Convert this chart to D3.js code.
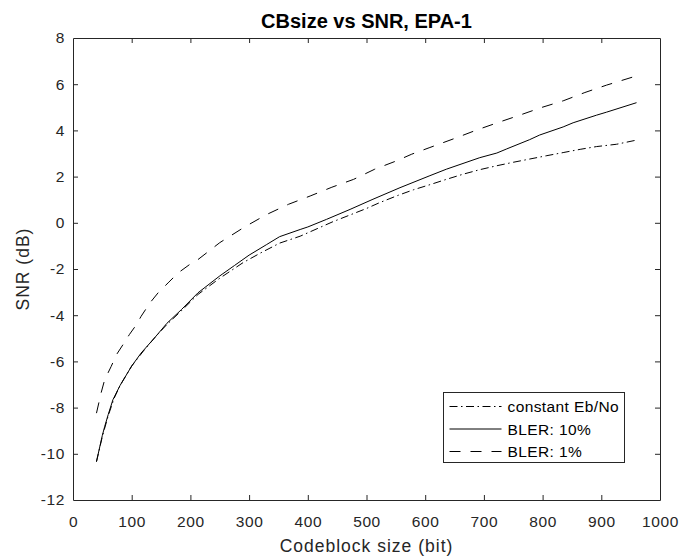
<!DOCTYPE html>
<html>
<head>
<meta charset="utf-8">
<script src="https://cdn.jsdelivr.net/npm/d3@7"></script>
<style>
  html, body { margin: 0; padding: 0; background: #fff; }
  svg { display: block; font-family: "Liberation Sans", Arial, Helvetica, sans-serif; }
</style>
</head>
<body>
<svg id="chart" width="681" height="560"></svg>
<script>
// Required SNR versus code block size, EPA-1 channel
const xTicks = [0, 100, 200, 300, 400, 500, 600, 700, 800, 900, 1000];
const yTicks = [-12, -10, -8, -6, -4, -2, 0, 2, 4, 6, 8];

// constant Eb/No reference
const ebnoX = [40, 50, 60, 70, 80, 100, 120, 140, 160, 185, 213, 250, 290, 320, 352, 387, 443, 500, 523, 554, 580, 608, 636, 664, 693, 722, 750, 778, 806, 835, 864, 892, 926, 960];
const ebnoY = [-10.34, -9.25, -8.35, -7.6, -7.05, -6.2, -5.55, -4.95, -4.4, -3.8, -3.1, -2.4, -1.72, -1.3, -0.88, -0.58, 0.05, 0.62, 0.88, 1.19, 1.43, 1.65, 1.88, 2.1, 2.3, 2.47, 2.62, 2.76, 2.9, 3.04, 3.18, 3.3, 3.4, 3.58];

// BLER 10%
const bler10X = [40, 50, 54, 60, 68, 80, 100, 116, 140, 160, 185, 213, 250, 275, 300, 330, 352, 387, 400, 432, 472, 511, 557, 608, 636, 693, 722, 739, 778, 795, 835, 852, 892, 909, 960];
const bler10Y = [-10.34, -9.2, -8.82, -8.3, -7.66, -7.05, -6.2, -5.64, -4.95, -4.35, -3.75, -3.03, -2.3, -1.85, -1.4, -0.94, -0.6, -0.29, -0.18, 0.15, 0.58, 1.02, 1.52, 2.04, 2.32, 2.82, 3.02, 3.2, 3.6, 3.8, 4.15, 4.33, 4.66, 4.79, 5.2];

// BLER 1%
const bler1X = [40, 48, 54, 65, 74, 85, 96, 108, 116, 131, 145, 162, 179, 199, 213, 250, 293, 330, 367, 404, 441, 478, 514, 551, 577, 608, 651, 688, 724, 761, 798, 835, 872, 909, 960];
const bler1Y = [-8.24, -7.35, -6.79, -6.22, -5.71, -5.28, -4.84, -4.41, -4.05, -3.47, -3.03, -2.6, -2.17, -1.8, -1.59, -0.86, -0.17, 0.36, 0.8, 1.16, 1.54, 1.88, 2.32, 2.68, 2.97, 3.26, 3.66, 4.02, 4.34, 4.66, 4.99, 5.28, 5.64, 5.96, 6.36];

const seriesNames = ["constant Eb/No", "BLER: 10%", "BLER: 1%"];
const series = [
  { name: seriesNames[0], xs: ebnoX, ys: ebnoY, dash: "8,3.5,1.5,3.5" },
  { name: seriesNames[1], xs: bler10X, ys: bler10Y, dash: null },
  { name: seriesNames[2], xs: bler1X, ys: bler1Y, dash: "11,10" }
];

const svg = d3.select("#chart");
const plotL = 73, plotR = 660, plotT = 38, plotB = 500;
const axisColor = "#262626";

const x = d3.scaleLinear().domain([0, 1000]).range([plotL, plotR]);
const y = d3.scaleLinear().domain([-12, 8]).range([plotB, plotT]);

svg.append("rect").attr("x", 0).attr("y", 0).attr("width", 681).attr("height", 560).attr("fill", "#fff");

// Curves
const line = d3.line().x(d => x(d[0])).y(d => y(d[1]));
const plot = svg.append("g");
series.forEach(s => {
  const pts = s.xs.map((v, i) => [v, s.ys[i]]);
  plot.append("path")
    .datum(pts)
    .attr("d", line)
    .attr("fill", "none")
    .attr("stroke", "#000")
    .attr("stroke-width", 1)
    .attr("stroke-dasharray", s.dash);
});

// Axes (ticks inward, box style)
const tickLen = 5;
const fmt = d3.format("d");
const gB = svg.append("g").attr("transform", `translate(0,${plotB})`)
  .call(d3.axisBottom(x).tickValues(xTicks).tickFormat(fmt).tickSizeInner(-tickLen).tickSizeOuter(0).tickPadding(16));
const gT = svg.append("g").attr("transform", `translate(0,${plotT})`)
  .call(d3.axisTop(x).tickValues(xTicks).tickFormat("").tickSizeInner(-tickLen).tickSizeOuter(0));
const gL = svg.append("g").attr("transform", `translate(${plotL},0)`)
  .call(d3.axisLeft(y).tickValues(yTicks).tickFormat(fmt).tickSizeInner(-tickLen).tickSizeOuter(0).tickPadding(8));
const gR = svg.append("g").attr("transform", `translate(${plotR},0)`)
  .call(d3.axisRight(y).tickValues(yTicks).tickFormat("").tickSizeInner(-tickLen).tickSizeOuter(0));

[gB, gT, gL, gR].forEach(g => {
  g.select(".domain").attr("stroke", axisColor).attr("stroke-width", 1);
  g.selectAll(".tick line").attr("stroke", axisColor).attr("stroke-width", 1);
  g.selectAll(".tick text").attr("fill", axisColor)
    .style("font-size", "15.5px").style("letter-spacing", "0.6px");
});
gL.selectAll(".tick text").text(d => d < 0 ? "-" + Math.abs(d) : d);
// ticks at frame corners are hidden by the frame itself
[gB, gT].forEach(g => g.selectAll(".tick line").filter(d => d === 0 || d === 1000).remove());
[gL, gR].forEach(g => g.selectAll(".tick line").filter(d => d === -12 || d === 8).remove());

// Title and labels
svg.append("text").attr("x", (plotL + plotR) / 2).attr("y", 28)
  .attr("text-anchor", "middle").attr("fill", "#000")
  .style("font-size", "20px").style("font-weight", "bold")
  .text("CBsize vs SNR, EPA-1");
svg.append("text").attr("x", (plotL + plotR) / 2).attr("y", 552)
  .attr("text-anchor", "middle").attr("fill", axisColor)
  .style("font-size", "17.5px").style("letter-spacing", "1px")
  .text("Codeblock size (bit)");
svg.append("text").attr("transform", `translate(29,${(plotT + plotB) / 2}) rotate(-90)`)
  .attr("text-anchor", "middle").attr("fill", axisColor)
  .style("font-size", "17.5px").style("letter-spacing", "1px")
  .text("SNR (dB)");

// Legend
const lg = svg.append("g").attr("transform", "translate(443.5,392.5)");
lg.append("rect").attr("width", 181).attr("height", 70)
  .attr("fill", "#fff").attr("stroke", axisColor).attr("stroke-width", 1);
series.forEach((s, i) => {
  const cy = 14 + i * 22.5;
  lg.append("line").attr("x1", 6).attr("x2", 58).attr("y1", cy).attr("y2", cy)
    .attr("stroke", "#000").attr("stroke-width", 1).attr("stroke-dasharray", s.dash);
  lg.append("text").attr("x", 64).attr("y", cy + 5.5)
    .attr("fill", "#000").style("font-size", "15.5px").style("letter-spacing", "0.4px")
    .text(s.name);
});
</script>
</body>
</html>
